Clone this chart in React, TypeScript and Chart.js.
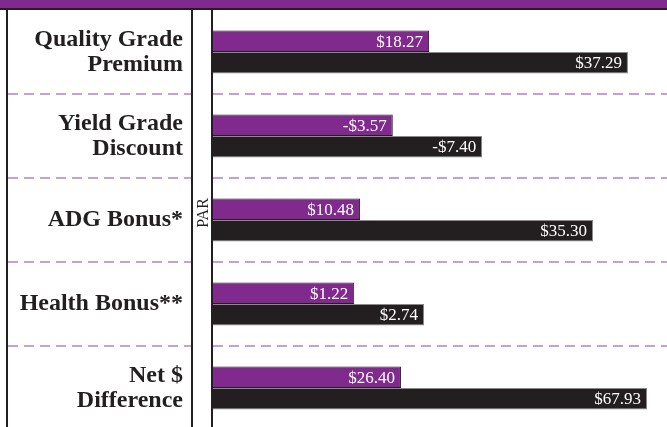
import React, { useEffect, useRef } from "react";
import { Chart, registerables } from "chart.js";

Chart.register(...registerables);

const categories: (string | string[])[] = [
  ["Quality Grade", "Premium"],
  ["Yield Grade", "Discount"],
  "ADG Bonus*",
  "Health Bonus**",
  ["Net $", "Difference"],
];

// dollar values printed on the bars
const purpleValues = [18.27, -3.57, 10.48, 1.22, 26.4];
const blackValues = [37.29, -7.4, 35.3, 2.74, 67.93];

// drawn bar lengths (the picture is not drawn to a dollar scale), 0–100 of the plot width
const purpleBarLength = [47.6, 39.6, 32.4, 31.1, 41.4];
const blackBarLength = [91.4, 59.3, 83.7, 46.5, 95.6];

const axisLabel = "PAR";

const PURPLE = "#7f2a8c";
const DARK = "#231f20";
const DASH = "#c4a0d4";
const SERIF = "Liberation Serif, DejaVu Serif, serif";

const fmt = (v: number) => (v < 0 ? "-$" : "$") + Math.abs(v).toFixed(2);

const framePlugin = {
  id: "frame",
  beforeDraw(chart: any) {
    const { ctx, chartArea, scales } = chart;
    const y = scales.y;
    const H = chart.height;
    const W = chart.width;
    ctx.save();
    // top banner
    ctx.fillStyle = PURPLE;
    ctx.fillRect(0, 0, W, 8);
    ctx.fillStyle = DARK;
    ctx.fillRect(0, 8, W, 2);
    // dashed separators
    ctx.strokeStyle = DASH;
    ctx.lineWidth = 2;
    ctx.setLineDash([10, 6]);
    for (let i = 0; i < categories.length - 1; i++) {
      const yy = Math.round((y.getPixelForValue(i) + y.getPixelForValue(i + 1)) / 2);
      ctx.beginPath();
      ctx.moveTo(8, yy);
      ctx.lineTo(191, yy);
      ctx.stroke();
      ctx.beginPath();
      ctx.moveTo(chartArea.left, yy);
      ctx.lineTo(W, yy);
      ctx.stroke();
    }
    ctx.setLineDash([]);
    // vertical rules
    ctx.fillStyle = DARK;
    ctx.fillRect(6, 10, 2, H);
    ctx.fillRect(191, 10, 2, H);
    ctx.fillRect(chartArea.left - 2, 10, 2, H);
    // PAR label
    ctx.save();
    ctx.translate(203, 213);
    ctx.rotate(-Math.PI / 2);
    ctx.fillStyle = DARK;
    ctx.font = "16px " + SERIF;
    ctx.textAlign = "center";
    ctx.textBaseline = "middle";
    ctx.fillText(axisLabel, 0, 1);
    ctx.restore();
    ctx.restore();
  },
  afterDatasetsDraw(chart: any) {
    const { ctx } = chart;
    ctx.save();
    ctx.fillStyle = "#ffffff";
    ctx.font = "17px " + SERIF;
    ctx.textAlign = "right";
    ctx.textBaseline = "middle";
    const sets = [purpleValues, blackValues];
    sets.forEach((vals, di) => {
      const meta = chart.getDatasetMeta(di);
      meta.data.forEach((bar: any, i: number) => {
        ctx.fillText(fmt(vals[i]), bar.x - 6, bar.y + 1);
      });
    });
    ctx.restore();
  },
};

export default function App() {
  const ref = useRef<HTMLCanvasElement>(null);
  useEffect(() => {
    if (!ref.current) return;
    const chart = new Chart(ref.current, {
      type: "bar",
      data: {
        labels: categories as any,
        datasets: [
          {
            data: purpleBarLength,
            backgroundColor: PURPLE,
            borderColor: DARK,
            borderWidth: 1,
            categoryPercentage: 0.512,
            barPercentage: 1,
          },
          {
            data: blackBarLength,
            backgroundColor: DARK,
            borderColor: "#8a8a8a",
            borderWidth: 1,
            categoryPercentage: 0.512,
            barPercentage: 1,
          },
        ],
      },
      options: {
        indexAxis: "y",
        animation: false,
        responsive: false,
        devicePixelRatio: 1,
        layout: { padding: { top: 10, left: 0, right: 0, bottom: 0 } },
        plugins: { legend: { display: false }, tooltip: { enabled: false } },
        scales: {
          x: { display: false, min: 0, max: 100 },
          y: {
            grid: { display: false, drawTicks: false },
            border: { display: false },
            afterFit: (s: any) => {
              s.width = 213;
              s.paddingTop = 0;
              s.paddingBottom = 0;
            },
            ticks: {
              autoSkip: false,
              padding: 30,
              color: DARK,
              font: { family: SERIF, weight: "bold", size: 24, lineHeight: 1.05 },
            },
          },
        },
      },
      plugins: [framePlugin],
    });
    return () => chart.destroy();
  }, []);
  return (
    <div style={{ position: "fixed", left: 0, top: 0, width: 667, height: 427, overflow: "hidden", background: "#fff" }}>
      <canvas ref={ref} width={667} height={430} style={{ display: "block" }} />
    </div>
  );
}
